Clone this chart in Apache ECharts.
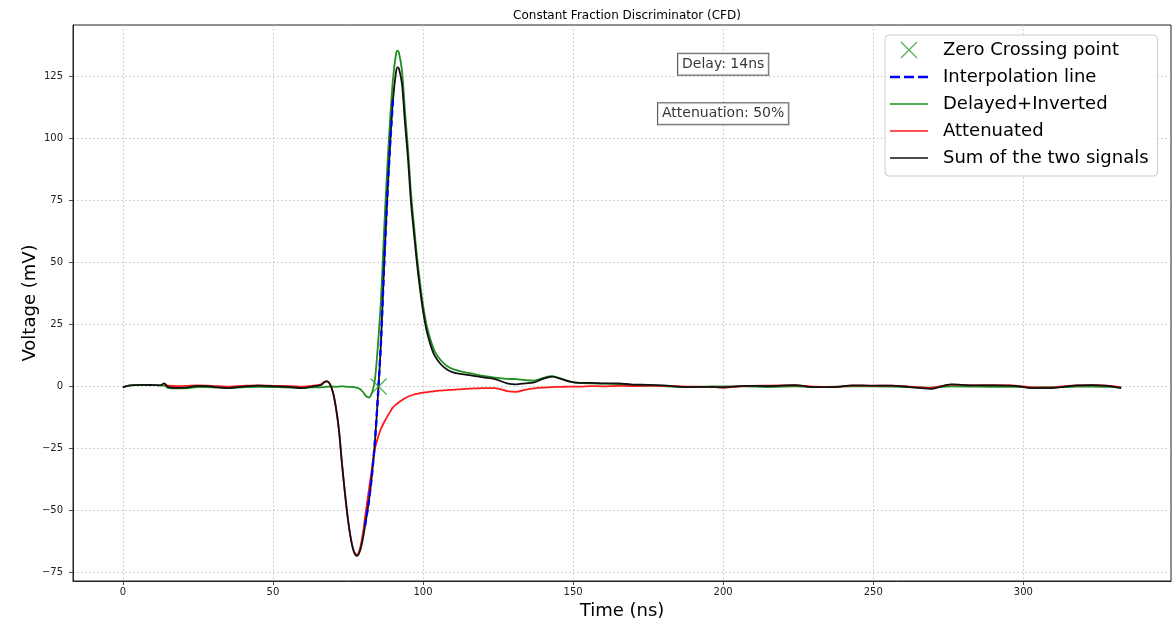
<!DOCTYPE html>
<html>
<head>
<meta charset="utf-8">
<script src="https://cdn.jsdelivr.net/npm/echarts@6/dist/echarts.min.js"></script>
<style>
html,body{margin:0;padding:0;background:#fff;}
#chart{width:1174px;height:623px;}
</style>
</head>
<body>
<div id="chart"></div>
<script>
// ---- Data ----
const timeNs = [
  0, 2, 4, 7, 10, 12.5, 13.8, 15, 18, 21, 25, 28, 31, 35, 40, 45, 51, 56, 60, 63,
  66, 67, 68, 69, 70, 71, 72, 73, 74, 75, 76, 77, 78, 79,
  80, 81, 82, 83, 84, 85, 86, 87, 88, 89, 90, 91, 91.5,
  92, 93, 94, 95, 96, 97, 98, 99, 100, 101, 102, 103, 104, 106, 108, 110,
  113, 116, 120, 124, 128, 131, 134, 137, 140, 143, 146, 149, 152, 156, 160, 165, 170, 175, 180,
  188, 195, 200, 207, 215, 224, 230, 237, 243, 249, 256, 262, 269, 276, 283, 290, 297, 303, 309, 314, 318, 323, 328, 332.6
];
const delayedInverted = [
  -0.3, 0.4, 0.6, 0.7, 0.6, 0.5, 0.4, -0.5, -0.7, -0.7, -0.2, -0.2, -0.4, -0.6, -0.3, -0.1, -0.2, -0.4, -0.6, -0.3,
  -0.3, -0.2, -0.1, 0.0, 0.0, -0.1, 0.0, 0.1, 0.0, -0.1, -0.1, -0.2, -0.5, -1.0,
  -2.2, -3.8, -4.4, -2.5, 3.0, 17, 35, 62, 86, 107, 124, 134, 135.5,
  134.5, 127.5, 111, 96, 78, 65, 52.5, 42, 33, 26, 21, 17, 14, 10.5, 8.3, 7.0,
  6.0, 5.3, 4.3, 3.6, 3.1, 3.0, 2.6, 2.4, 3.5, 4.2, 3.2, 2.0, 1.5, 1.3, 1.2, 1.0, 0.6, 0.3, 0.2,
  -0.2, 0.0, 0.1, 0.1, -0.2, 0.1, -0.2, 0.0, 0.1, 0.1, 0.0, -0.2, -0.4, 0.1, 0.0, -0.1, -0.1, -0.3, -0.2, -0.2, 0.0, 0.0, -0.1, -0.3
];
const attenuated = [
  null, null, null, null, null, null, 0.9, 0.4, 0.2, 0.3, 0.5, 0.4, 0.2, 0.0, 0.3, 0.5, 0.3, 0.2, 0.0, 0.3,
  0.9, 1.8, 2.2, 1.0, -2.3, -8.5, -17.5, -31, -43, -53.5, -61.5, -66.5, -67.8, -65.3,
  -59, -50, -41.5, -33, -25, -20.5, -17, -14.5, -12.3, -10.3, -8.4, -7.3, -6.8,
  -6.3, -5.5, -4.7, -4.1, -3.6, -3.2, -2.9, -2.6, -2.4, -2.3, -2.1, -2.0, -1.8, -1.6, -1.4, -1.3,
  -1.0, -0.8, -0.6, -0.6, -1.8, -2.1, -1.3, -0.7, -0.4, -0.2, -0.1, 0.0, 0.0, 0.2, 0.1, 0.3, 0.2, 0.4, 0.3,
  0.0, -0.1, -0.4, 0.2, 0.4, 0.5, 0.0, -0.2, 0.4, 0.3, 0.4, 0.0, -0.5, 0.8, 0.5, 0.6, 0.4, -0.3, -0.4, 0.2, 0.5, 0.6, 0.4, -0.3
];
const sumSignal = [
  -0.3, 0.4, 0.6, 0.7, 0.6, 0.5, 1.3, -0.1, -0.5, -0.4, 0.3, 0.2, -0.2, -0.6, 0.0, 0.4, 0.1, -0.2, -0.6, 0.0,
  0.6, 1.6, 2.1, 1.0, -2.3, -8.6, -17.5, -30.9, -43, -53.6, -61.6, -66.7, -68.3, -66.3,
  -61.2, -53.8, -45.9, -35.5, -22, -3.5, 18, 47.5, 73.7, 96.7, 115.6, 126.7, 128.7,
  128.2, 122, 106.3, 91.9, 74.4, 61.8, 49.6, 39.4, 30.6, 23.7, 18.9, 15, 12.2, 8.9, 6.9, 5.7,
  5.0, 4.5, 3.7, 3.0, 1.3, 0.9, 1.3, 1.7, 3.1, 4.0, 3.1, 2.0, 1.5, 1.5, 1.3, 1.3, 0.8, 0.7, 0.5,
  -0.2, -0.1, -0.3, 0.3, 0.2, 0.6, -0.2, -0.2, 0.5, 0.4, 0.4, -0.2, -0.9, 0.9, 0.5, 0.5, 0.3, -0.6, -0.6, 0.0, 0.5, 0.6, 0.3, -0.6
];
const interpTime = [80.7, 81, 82, 83, 84, 85, 86, 87, 88, 89, 90];
const interpVolt = [-56, -53.8, -45.9, -35.5, -22, -3.5, 18, 47.5, 73.7, 96.7, 115.6];
const zeroCrossTime = [85.2];
const zeroCrossVolt = [0];
const annotTexts = ['Delay: 14ns', 'Attenuation: 50%'];
const annotTime = [200, 200];
const annotVolt = [130, 110];
const xTicks = [0, 50, 100, 150, 200, 250, 300];
const yTicks = [-75, -50, -25, 0, 25, 50, 75, 100, 125];
const seriesNames = ['Zero Crossing point', 'Interpolation line', 'Delayed+Inverted', 'Attenuated', 'Sum of the two signals'];

// ---- helpers ----
function pairs(xs, ys) {
  const out = [];
  for (let i = 0; i < xs.length; i++) if (ys[i] !== null) out.push([xs[i], ys[i]]);
  return out;
}
const FONT = 'DejaVu Sans';
const minusFmt = v => String(v).replace('-', '\u2212');
const gridLine = { show: true, lineStyle: { color: '#c8c8c8', width: 0.8, type: [2, 2] } };

const C_GREEN = '#1f8f1f', C_RED = '#ff1a1a', C_BLACK = '#111111', C_BLUE = '#0000ff', C_X = '#2e9a2e';
const ICON_X = 'path://M0,0L10,10M10,0L0,10';
const ICON_SOLID = 'path://M0,0h38v1.7h-38z';
const ICON_DASH = 'path://M0,0h10v2.6h-10zM14,0h10v2.6h-10zM28,0h10v2.6h-10z';
const legendIcons = [ICON_X, ICON_DASH, ICON_SOLID, ICON_SOLID, ICON_SOLID];
const legendColors = [null, C_BLUE, C_GREEN, C_RED, C_BLACK];

const chart = echarts.init(document.getElementById('chart'), null, { renderer: 'canvas' });
chart.setOption({
  animation: false,
  backgroundColor: '#ffffff',
  title: {
    text: 'Constant Fraction Discriminator (CFD)',
    left: 622, top: 5, textAlign: 'center',
    textStyle: { fontFamily: FONT, fontSize: 12, fontWeight: 'normal', color: '#000' }
  },
  grid: {
    left: 73, right: 3, top: 25, bottom: 42,
    containLabel: false, outerBoundsMode: 'none',
    show: true, borderColor: '#222', borderWidth: 1, backgroundColor: 'transparent'
  },
  legend: {
    orient: 'vertical', left: 885, top: 35,
    data: seriesNames.map((n, i) => i === 0
      ? { name: n, icon: legendIcons[i], itemStyle: { color: 'rgba(0,0,0,0)', borderColor: C_X, borderWidth: 1.3 } }
      : { name: n, icon: legendIcons[i], itemStyle: { color: legendColors[i], borderWidth: 0 } }),
    itemWidth: 38, itemHeight: 16, itemGap: 9,
    padding: [6, 9, 9, 5],
    backgroundColor: 'rgba(255,255,255,0.85)', borderColor: '#cccccc', borderWidth: 1, borderRadius: 4,
    textStyle: { fontFamily: FONT, fontSize: 18, color: '#000', padding: [0, 0, 0, 10] }
  },
  xAxis: {
    type: 'value', min: -16.6, max: 349.2,
    name: 'Time (ns)', nameLocation: 'middle', nameGap: 21, nameMoveOverlap: false,
    nameTextStyle: { fontFamily: FONT, fontSize: 18, color: '#000' },
    axisLine: { show: true, onZero: false, lineStyle: { color: '#222', width: 1 } },
    axisTick: { show: true, customValues: xTicks, length: 4, lineStyle: { color: '#222', width: 0.8 } },
    axisLabel: { customValues: xTicks, margin: 6, fontFamily: FONT, fontSize: 10, color: '#222', formatter: minusFmt },
    splitLine: gridLine
  },
  yAxis: {
    type: 'value', min: -78.4, max: 145.8,
    name: 'Voltage (mV)', nameLocation: 'middle', nameGap: 34, nameRotate: 90, nameMoveOverlap: false,
    nameTextStyle: { fontFamily: FONT, fontSize: 18, color: '#000' },
    axisLine: { show: true, onZero: false, lineStyle: { color: '#222', width: 1 } },
    axisTick: { show: true, customValues: yTicks, length: 4, lineStyle: { color: '#222', width: 0.8 } },
    axisLabel: { customValues: yTicks, margin: 10, fontFamily: FONT, fontSize: 10, color: '#222', formatter: minusFmt },
    splitLine: gridLine
  },
  series: [
    {
      name: seriesNames[2], type: 'line', data: pairs(timeNs, delayedInverted),
      symbol: 'none', smooth: 0.3, lineStyle: { color: C_GREEN, width: 1.8 }, itemStyle: { color: C_GREEN }, z: 2
    },
    {
      name: seriesNames[3], type: 'line', data: pairs(timeNs, attenuated),
      symbol: 'none', smooth: 0.3, lineStyle: { color: C_RED, width: 1.8 }, itemStyle: { color: C_RED }, z: 3
    },
    {
      name: seriesNames[4], type: 'line', data: pairs(timeNs, sumSignal),
      symbol: 'none', smooth: 0.3, lineStyle: { color: C_BLACK, width: 1.8 }, itemStyle: { color: C_BLACK }, z: 4
    },
    {
      name: seriesNames[1], type: 'line', data: pairs(interpTime, interpVolt),
      symbol: 'none', smooth: 0.3, lineStyle: { color: C_BLUE, width: 2.4, type: [6, 4] }, itemStyle: { color: C_BLUE }, z: 5
    },
    {
      name: seriesNames[0], type: 'scatter', data: pairs(zeroCrossTime, zeroCrossVolt),
      symbol: ICON_X, symbolSize: 16,
      itemStyle: { color: 'rgba(0,0,0,0)', borderColor: C_X, borderWidth: 1.3 }, z: 6
    },
    {
      name: 'annotations', type: 'scatter', data: pairs(annotTime, annotVolt),
      symbolSize: 0, silent: true, z: 7,
      label: {
        show: true, position: 'inside',
        formatter: p => annotTexts[p.dataIndex],
        fontFamily: FONT, fontSize: 14, color: '#000',
        backgroundColor: '#fff', borderColor: '#333', borderWidth: 1, padding: [4, 4, 3, 4]
      }
    }
  ]
});
</script>
</body>
</html>
